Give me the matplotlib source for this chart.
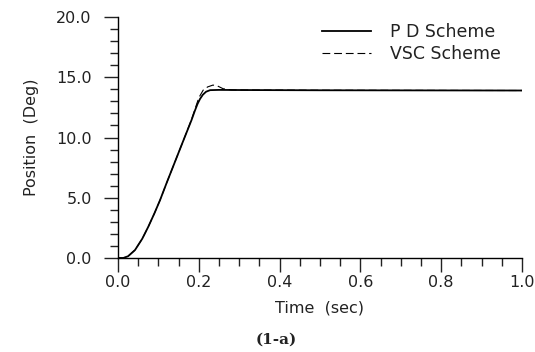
import matplotlib
matplotlib.use("Agg")
import matplotlib.pyplot as plt
from matplotlib.ticker import MultipleLocator, FormatStrFormatter

plt.rcParams.update({
    "font.family": "DejaVu Sans",
    "font.size": 11.5,
    "text.color": "#222222",
    "axes.labelcolor": "#222222",
    "xtick.color": "#222222",
    "ytick.color": "#222222",
})

# step response, PD controller
t_pd = [0.0, 0.013, 0.025, 0.042, 0.06, 0.075, 0.09, 0.104, 0.12, 0.14, 0.16,
        0.182, 0.19, 0.197, 0.203, 0.21, 0.218, 0.228, 0.25, 0.3, 0.5, 1.0]
pos_pd = [0.0, 0.0, 0.15, 0.66, 1.6, 2.6, 3.7, 4.8, 6.2, 7.9, 9.6,
          11.45, 12.2, 12.8, 13.2, 13.55, 13.8, 13.93, 13.95, 13.94, 13.92, 13.9]

# step response, variable structure controller
t_vsc = [0.0, 0.013, 0.025, 0.042, 0.06, 0.075, 0.09, 0.104, 0.12, 0.14, 0.16,
         0.182, 0.192, 0.2, 0.211, 0.222, 0.235, 0.245, 0.26, 0.28, 0.3, 0.5, 1.0]
pos_vsc = [0.0, 0.0, 0.15, 0.66, 1.6, 2.6, 3.7, 4.8, 6.2, 7.9, 9.6,
           11.5, 12.5, 13.3, 13.94, 14.2, 14.35, 14.3, 14.05, 13.95, 13.94, 13.92, 13.9]

fig = plt.figure(figsize=(5.35, 3.52), dpi=100, facecolor="white")
ax = fig.add_axes([0.2206, 0.267, 0.755, 0.6847])

ax.plot(t_pd, pos_pd, color="black", lw=1.3, label="P D Scheme")
ax.plot(t_vsc, pos_vsc, color="black", lw=0.8, ls=(0, (7, 3.5)), label="VSC Scheme")

ax.set_xlim(0, 1.0)
ax.set_ylim(0, 20.0)
ax.xaxis.set_major_locator(MultipleLocator(0.2))
ax.xaxis.set_minor_locator(MultipleLocator(0.05))
ax.yaxis.set_major_locator(MultipleLocator(5.0))
ax.yaxis.set_minor_locator(MultipleLocator(1.0))
ax.xaxis.set_major_formatter(FormatStrFormatter("%.1f"))
ax.yaxis.set_major_formatter(FormatStrFormatter("%.1f"))

for side in ("top", "right"):
    ax.spines[side].set_visible(False)
for side in ("left", "bottom"):
    ax.spines[side].set_linewidth(1.0)

ax.tick_params(axis="both", which="major", direction="out", length=10, width=1.0)
ax.tick_params(axis="both", which="minor", direction="out", length=6, width=1.0)
ax.tick_params(axis="y", which="major", pad=9)
ax.tick_params(axis="x", which="major", pad=2)

ax.set_xlabel("Time  (sec)", labelpad=8)
ax.set_ylabel("Position  (Deg)", labelpad=12)

ax.legend(loc="upper left", bbox_to_anchor=(0.505, 0.975), frameon=False,
          handlelength=2.8, handletextpad=1.1, labelspacing=0.25,
          borderaxespad=0.0, borderpad=0.0, fontsize=12.5)

fig.text(0.517, 0.035, "(1-a)", ha="center", va="center",
         family="DejaVu Serif", fontweight="bold", fontsize=11)

fig.savefig("out.png", dpi=100, facecolor="white")
